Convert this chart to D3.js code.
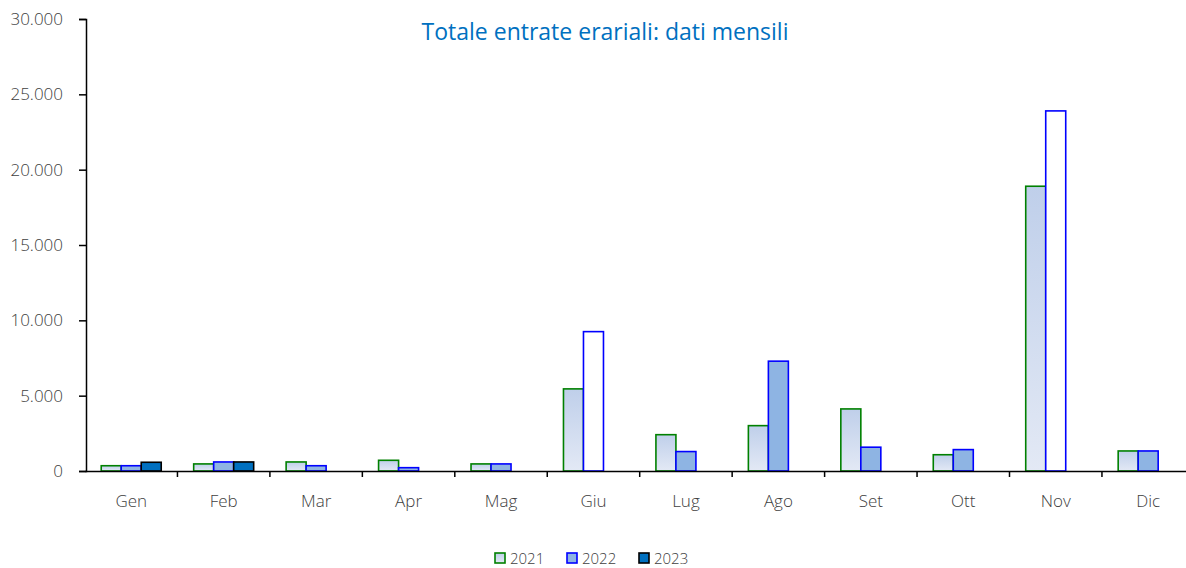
<!DOCTYPE html>
<html>
<head>
<meta charset="utf-8">
<script src="https://cdn.jsdelivr.net/npm/d3@7"></script>
<style>
  body { margin: 0; background: #fff; }
  text { font-family: "Open Sans", "Noto Sans", sans-serif; }
</style>
</head>
<body>
<div id="chart"></div>
<script>
// months and monthly values
let months = ["Gen", "Feb", "Mar", "Apr", "Mag", "Giu", "Lug", "Ago", "Set", "Ott", "Nov", "Dic"];
let years = ["2021", "2022", "2023"];
let values2021 = [350, 470, 600, 710, 470, 5450, 2410, 3010, 4120, 1080, 18900, 1330];
let values2022 = [350, 600, 350, 220, 470, 9250, 1290, 7290, 1580, 1420, 23900, 1330];
let values2023 = [580, 600, null, null, null, null, null, null, null, null, null, null];
// 2022 bars that are drawn without fill in the original
let hollow2022 = ["Giu", "Nov"];
let yTicks = [0, 5000, 10000, 15000, 20000, 25000, 30000];

let width = 1186, height = 568;
let margin = {top: 19, left: 86, bottom: 97};

let svg = d3.select("#chart").append("svg")
    .attr("width", width)
    .attr("height", height);

let defs = svg.append("defs");
let grad = defs.append("linearGradient")
    .attr("id", "grad2021")
    .attr("x1", 0).attr("y1", 0).attr("x2", 0).attr("y2", 1);
grad.append("stop").attr("offset", "0%").attr("stop-color", "#bfcfea");
grad.append("stop").attr("offset", "100%").attr("stop-color", "#e3e9f5");

let x = d3.scaleBand()
    .domain(months)
    .range([margin.left - 1, margin.left - 1 + 12 * 92.45]);

let y = d3.scaleLinear()
    .domain([0, 30000])
    .range([height - margin.bottom, margin.top]);

let barW = 20;
let groupW = barW * 3;

let fmt = d3.format(",");
function itFmt(d) { return fmt(d).replace(/,/g, "."); }

// y axis
let yAxis = svg.append("g")
    .attr("transform", "translate(" + margin.left + ",0)")
    .call(d3.axisLeft(y).tickValues(yTicks).tickSize(7).tickPadding(16).tickFormat(itFmt));
yAxis.select(".domain").attr("stroke", "#000").attr("stroke-width", 1.5);
yAxis.selectAll(".tick line").attr("stroke", "#000").attr("stroke-width", 1.5);
yAxis.selectAll(".tick text")
    .attr("fill", "#404040")
    .style("font-size", "17px")
    .style("font-weight", 300);

let series = [
    {year: "2021", vals: values2021},
    {year: "2022", vals: values2022},
    {year: "2023", vals: values2023}
];

function fillFor(year, month) {
    if (year == "2021") return "url(#grad2021)";
    if (year == "2022") return hollow2022.indexOf(month) >= 0 ? "#ffffff" : "#8eb4e3";
    return "#0070c0";
}
let strokes = {"2021": "#008000", "2022": "#0000ff", "2023": "#000000"};

let bars = svg.append("g");
series.forEach(function(s, si) {
    let data = months.map(function(m, i) { return {month: m, v: s.vals[i]}; })
        .filter(function(d) { return d.v != null; });
    bars.selectAll(".b" + s.year)
        .data(data)
        .enter()
        .append("rect")
        .attr("x", function(d) { return x(d.month) + (x.bandwidth() - groupW) / 2 + si * barW; })
        .attr("y", function(d) { return y(d.v); })
        .attr("width", barW)
        .attr("height", function(d) { return y(0) - y(d.v); })
        .attr("fill", function(d) { return fillFor(s.year, d.month); })
        .attr("stroke", strokes[s.year])
        .attr("stroke-width", 1.6);
});

// x axis
let xAxis = svg.append("g")
    .attr("transform", "translate(0," + y(0) + ")")
    .call(d3.axisBottom(x).tickSize(0).tickPadding(24));
xAxis.select(".domain").attr("stroke", "#000").attr("stroke-width", 1.5);
xAxis.selectAll(".tick text")
    .attr("fill", "#404040")
    .style("font-size", "17px")
    .style("font-weight", 300);
// category separators
xAxis.selectAll(".sep")
    .data(months.slice(1))
    .enter()
    .append("line")
    .attr("x1", function(d) { return x(d); })
    .attr("x2", function(d) { return x(d); })
    .attr("y1", 0)
    .attr("y2", 6)
    .attr("stroke", "#000")
    .attr("stroke-width", 1.5);

// title
svg.append("text")
    .attr("x", 605)
    .attr("y", 40)
    .attr("text-anchor", "middle")
    .attr("fill", "#0070c0")
    .style("font-size", "23px")
    .text("Totale entrate erariali: dati mensili");

// legend
let legend = svg.append("g").attr("transform", "translate(495,553)");
let legX = [0, 72, 144];
years.forEach(function(yr, i) {
    let g = legend.append("g").attr("transform", "translate(" + legX[i] + ",0)");
    g.append("rect")
        .attr("width", 10).attr("height", 10)
        .attr("fill", yr == "2021" ? "url(#grad2021)" : (yr == "2022" ? "#8eb4e3" : "#0070c0"))
        .attr("stroke", strokes[yr])
        .attr("stroke-width", 1.6);
    g.append("text")
        .attr("x", 15).attr("y", 11)
        .attr("fill", "#404040")
        .style("font-size", "15px")
        .style("font-weight", 300)
        .text(yr);
});
</script>
</body>
</html>
